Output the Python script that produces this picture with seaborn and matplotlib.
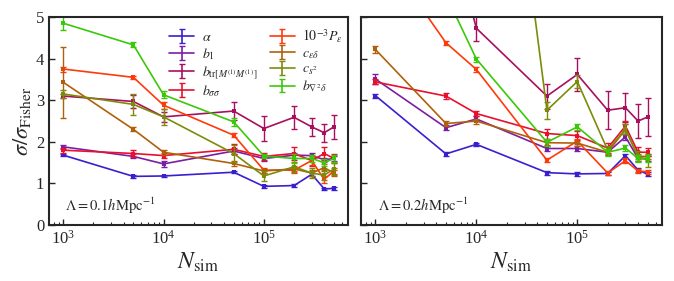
import numpy as np
import pandas as pd
import matplotlib
matplotlib.use("Agg")
import matplotlib.pyplot as plt
import seaborn as sns

# N_sim values
n_sim = [1e3, 5e3, 1e4, 5e4, 1e5, 2e5, 3e5, 4e5, 5e5]

labels = [r'$\alpha$', r'$b_1$', r'$b_{\mathrm{tr}[M^{(1)}M^{(1)}]}$', r'$b_{\sigma\sigma}$',
          r'$10^{-3}P_\epsilon$', r'$c_{\epsilon\delta}$', r'$c_{s^2}$', r'$b_{\nabla^2\delta}$']
colors = ['#3a1fd0', '#7b1fa2', '#a8105e', '#e8102e',
          '#ff3a0a', '#b0600a', '#7c8c0a', '#3cc80a']

# Lambda = 0.1 h/Mpc
left_vals = [
    [1.68, 1.17, 1.18, 1.27, 0.93, 0.95, 1.22, 0.87, 0.88],
    [1.88, 1.65, 1.47, 1.78, 1.60, 1.68, 1.67, 1.57, 1.60],
    [3.10, 2.97, 2.60, 2.74, 2.32, 2.59, 2.36, 2.22, 2.36],
    [1.80, 1.72, 1.67, 1.82, 1.65, 1.72, 1.55, 1.72, 1.60],
    [3.75, 3.55, 2.88, 2.16, 1.32, 1.32, 1.55, 1.10, 1.30],
    [3.43, 2.30, 1.75, 1.48, 1.30, 1.35, 1.25, 1.38, 1.25],
    [3.15, 2.90, 2.60, 1.72, 1.18, 1.40, 1.25, 1.20, 1.35],
    [4.85, 4.33, 3.13, 2.48, 1.66, 1.60, 1.60, 1.50, 1.60],
]
left_errs = [
    [0.03, 0.03, 0.03, 0.03, 0.03, 0.03, 0.04, 0.03, 0.03],
    [0.05, 0.05, 0.07, 0.07, 0.06, 0.06, 0.07, 0.05, 0.05],
    [0.05, 0.15, 0.12, 0.22, 0.30, 0.28, 0.22, 0.22, 0.28],
    [0.06, 0.08, 0.06, 0.12, 0.08, 0.15, 0.12, 0.15, 0.12],
    [0.06, 0.04, 0.08, 0.05, 0.06, 0.06, 0.10, 0.08, 0.08],
    [0.85, 0.05, 0.06, 0.05, 0.05, 0.06, 0.08, 0.08, 0.07],
    [0.10, 0.25, 0.20, 0.20, 0.12, 0.12, 0.12, 0.12, 0.15],
    [0.17, 0.06, 0.08, 0.10, 0.06, 0.10, 0.08, 0.08, 0.08],
]

# Lambda = 0.2 h/Mpc (some points run far off the top)
right_vals = [
    [3.11, 1.71, 1.94, 1.26, 1.23, 1.24, 1.67, 1.32, 1.22],
    [3.51, 2.34, 2.55, 1.84, 1.84, 1.75, 2.12, 1.60, 1.60],
    [9.00, 7.50, 4.73, 3.10, 3.62, 2.76, 2.82, 2.50, 2.60],
    [3.44, 3.10, 2.68, 2.20, 2.15, 1.85, 2.38, 1.75, 1.75],
    [6.80, 4.38, 3.74, 1.56, 2.02, 1.25, 1.55, 1.30, 1.28],
    [4.22, 2.44, 2.50, 1.98, 1.97, 1.75, 2.30, 1.65, 1.65],
    [30.0, 22.0, 16.0, 2.76, 3.45, 1.80, 2.30, 1.65, 1.55],
    [9.00, 5.53, 3.99, 1.99, 2.36, 1.75, 1.85, 1.60, 1.60],
]
right_errs = [
    [0.05, 0.04, 0.04, 0.05, 0.04, 0.04, 0.05, 0.04, 0.05],
    [0.12, 0.06, 0.06, 0.07, 0.07, 0.06, 0.08, 0.07, 0.07],
    [0.30, 0.30, 0.30, 0.30, 0.40, 0.45, 0.35, 0.40, 0.45],
    [0.06, 0.07, 0.06, 0.12, 0.10, 0.12, 0.12, 0.12, 0.10],
    [0.10, 0.05, 0.05, 0.05, 0.06, 0.05, 0.06, 0.05, 0.05],
    [0.08, 0.06, 0.06, 0.06, 0.06, 0.06, 0.12, 0.06, 0.06],
    [0.20, 0.20, 0.20, 0.20, 0.15, 0.10, 0.12, 0.12, 0.15],
    [0.10, 0.10, 0.06, 0.08, 0.08, 0.08, 0.08, 0.08, 0.08],
]

panel_text = [r'$\Lambda=0.1h\mathrm{Mpc}^{-1}$', r'$\Lambda=0.2h\mathrm{Mpc}^{-1}$']

sns.set_style("ticks")
plt.rcParams['font.family'] = ['serif']
plt.rcParams['font.serif'] = ['Liberation Serif', 'DejaVu Serif']
plt.rcParams['mathtext.fontset'] = 'stix'
plt.rcParams['axes.linewidth'] = 1.5
plt.rcParams['xtick.direction'] = 'in'
plt.rcParams['ytick.direction'] = 'in'

fig = plt.figure(figsize=(6.74, 2.81), dpi=100)
ax1 = fig.add_axes([0.0727, 0.199, 0.4436, 0.7405])
ax2 = fig.add_axes([0.5356, 0.199, 0.4466, 0.7405], sharey=ax1)


def draw_panel(ax, vals, errs):
    for lab, col, v, e in zip(labels, colors, vals, errs):
        df = pd.DataFrame({'N': n_sim, 'ratio': v})
        sns.lineplot(data=df, x='N', y='ratio', ax=ax, color=col, lw=1.2,
                     marker='s', markersize=2.5, markeredgewidth=0, legend=False)
        ax.errorbar(n_sim, v, yerr=e, fmt='none', ecolor=col, elinewidth=1.0,
                    capsize=2, capthick=1.0)


draw_panel(ax1, left_vals, left_errs)
draw_panel(ax2, right_vals, right_errs)

for ax, txt in zip([ax1, ax2], panel_text):
    ax.set_xscale('log')
    ax.set_xlim(720, 690000)
    ax.set_ylim(0, 5)
    ax.set_yticks([0, 1, 2, 3, 4, 5])
    ax.set_xlabel(r'$N_{\mathrm{sim}}$', fontsize=17, labelpad=2)
    ax.set_ylabel('')
    ax.tick_params(axis='both', which='major', labelsize=12, length=4, width=1.0)
    ax.tick_params(axis='x', which='minor', length=2.5, width=0.8)
    ax.text(0.055, 0.07, txt, transform=ax.transAxes, fontsize=10.5)

ax2.tick_params(axis='y', labelleft=False)
ax1.set_ylabel(r'$\sigma/\sigma_{\mathrm{Fisher}}$', fontsize=16, labelpad=2)

# keep the legend of the left panel on top of the right panel
ax1.set_zorder(2)
ax1.patch.set_visible(False)

# legend with errorbar style handles
handles = []
for lab, col in zip(labels, colors):
    h = ax1.errorbar([np.nan], [np.nan], yerr=[0.1], fmt='-', color=col, lw=1.2,
                     capsize=2, capthick=1.0, label=lab)
    handles.append(h)
ax1.legend(handles=handles, labels=labels, ncol=2, loc='upper left',
           bbox_to_anchor=(0.36, 1.01), frameon=False, fontsize=10,
           handlelength=1.8, labelspacing=0.15, columnspacing=0.9, handletextpad=0.55)

fig.savefig("out.png", dpi=100)
